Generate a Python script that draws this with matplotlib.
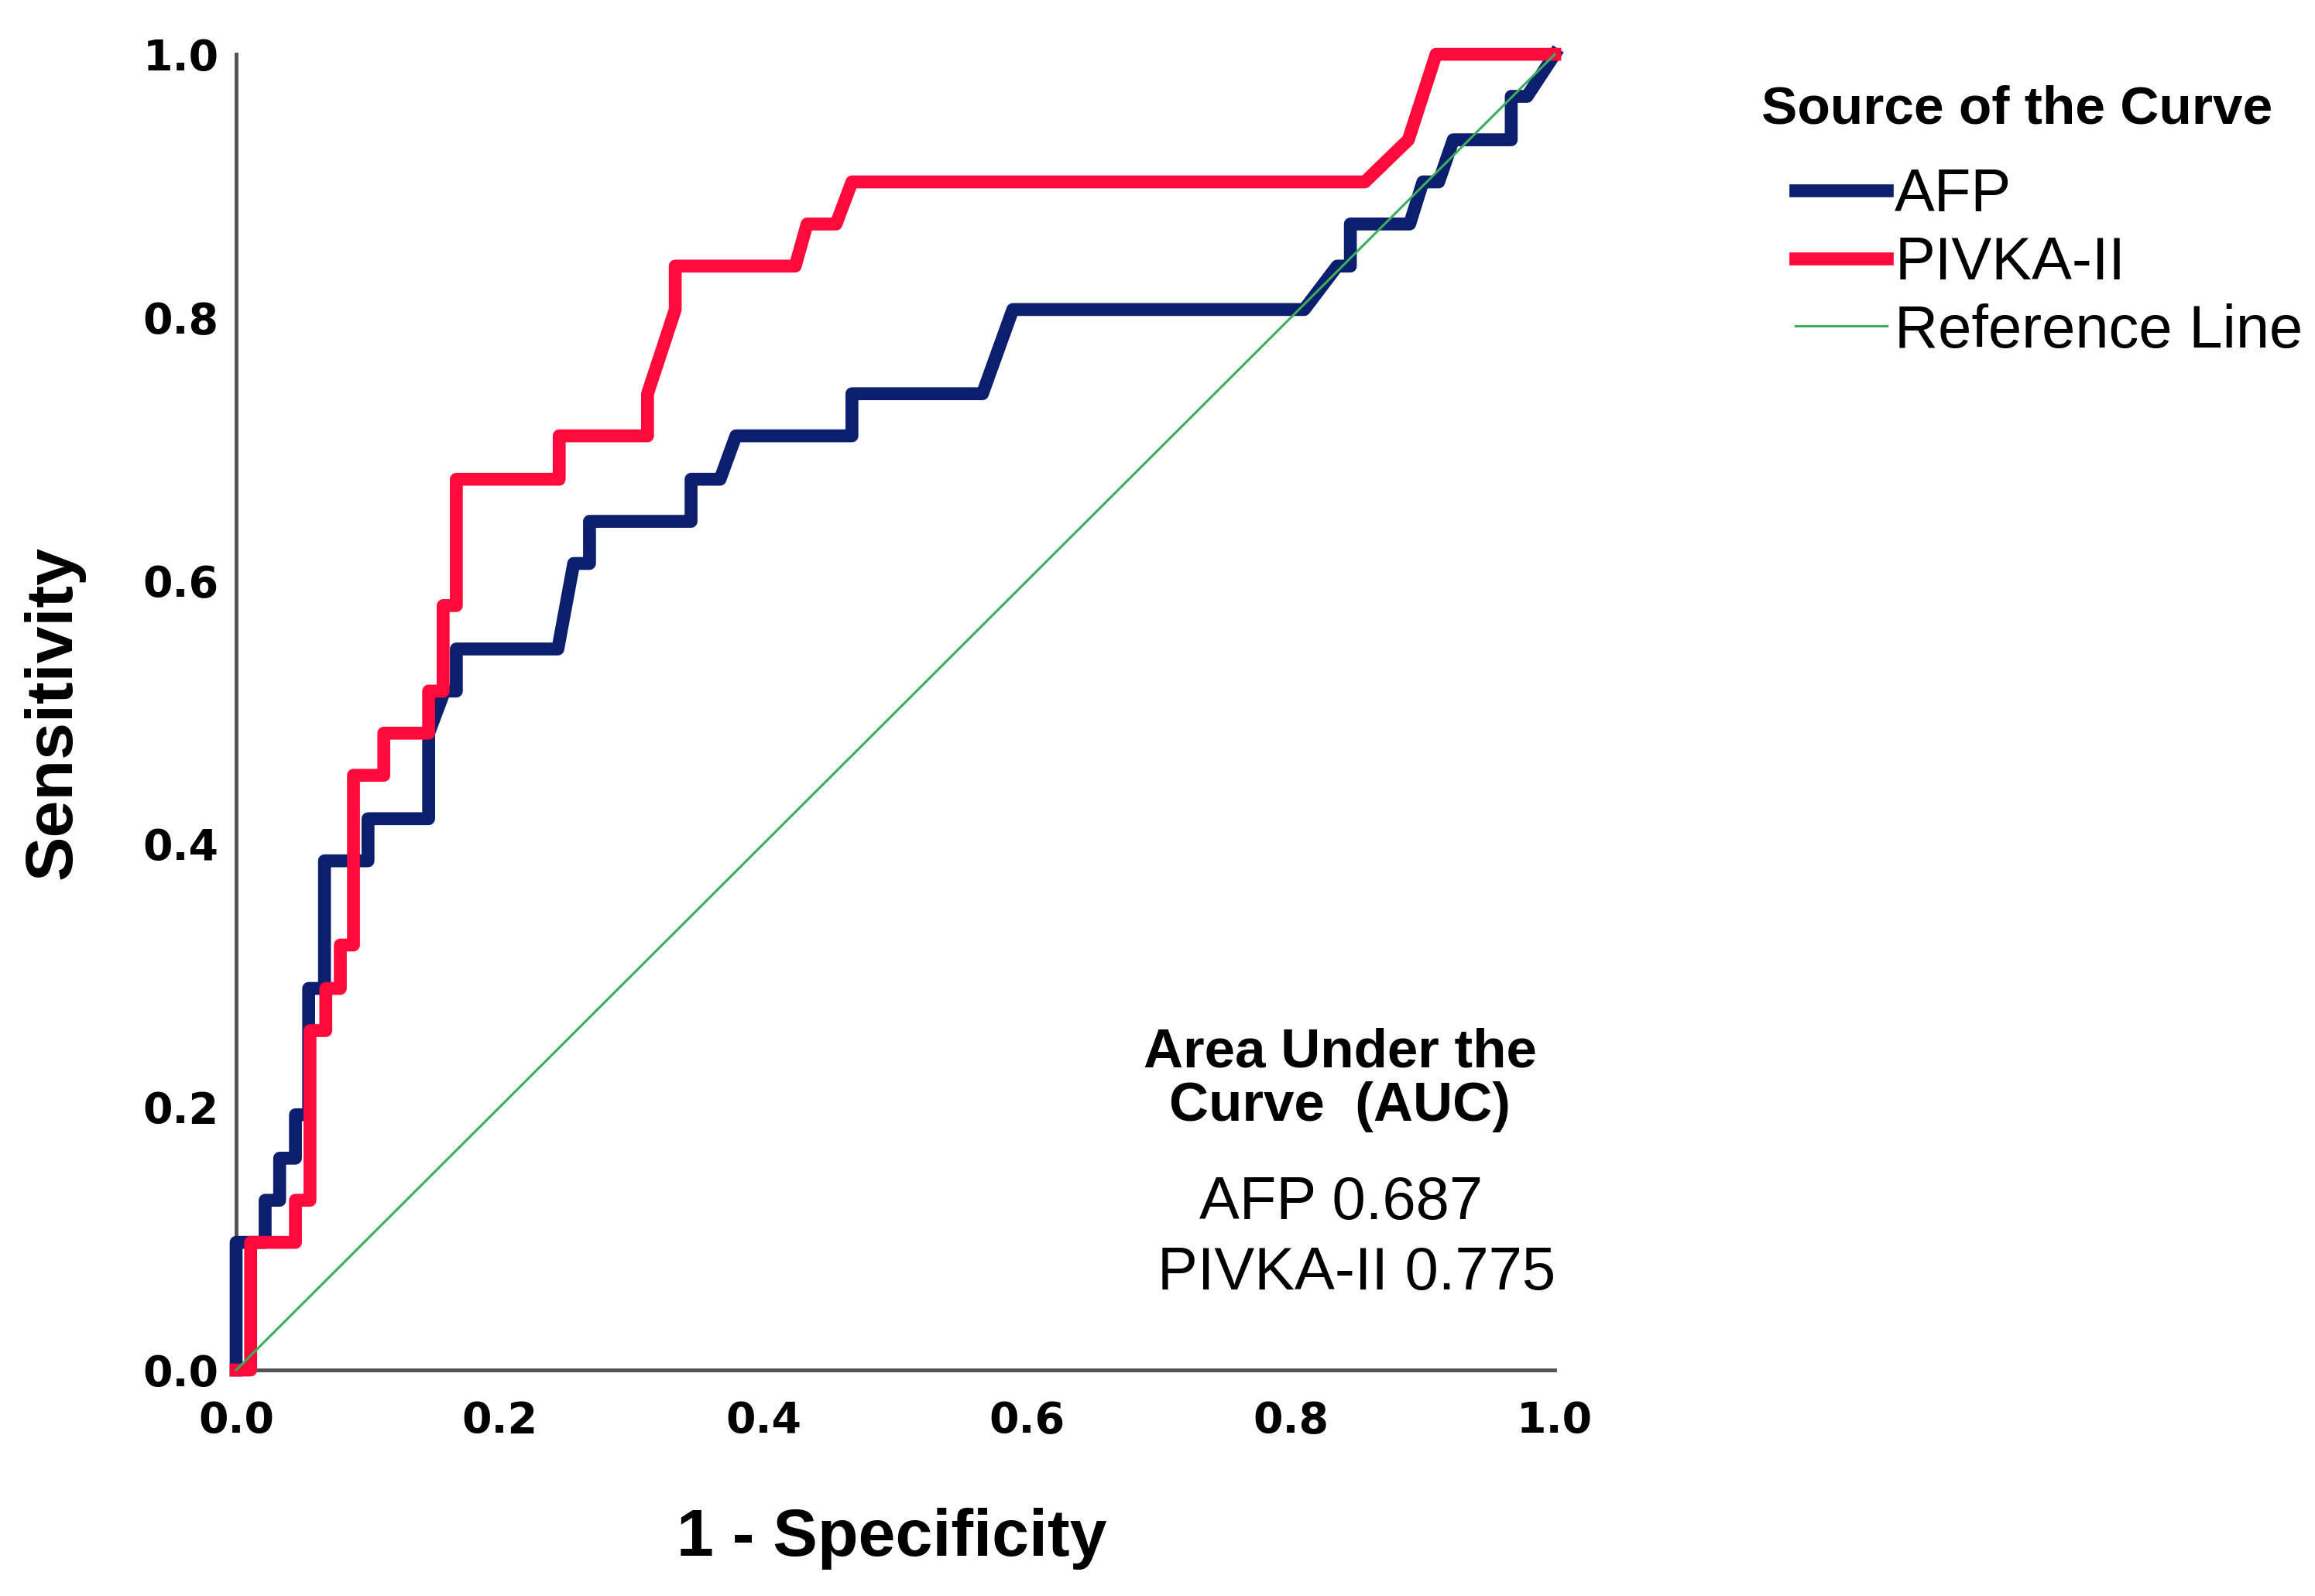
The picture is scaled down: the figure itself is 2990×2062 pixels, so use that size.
import matplotlib
matplotlib.use("Agg")
import matplotlib.pyplot as plt

# ROC vertices (1 - specificity, sensitivity)
afp_fpr = [0.0, 0.0, 0.022, 0.022, 0.033, 0.033, 0.045, 0.045, 0.055, 0.055,
           0.067, 0.067, 0.100, 0.100, 0.146, 0.146, 0.158, 0.167, 0.167, 0.244,
           0.256, 0.268, 0.268, 0.345, 0.345, 0.367, 0.379, 0.467, 0.467, 0.566,
           0.589, 0.810, 0.835, 0.845, 0.845, 0.890, 0.900, 0.912, 0.923, 0.967,
           0.967, 0.979, 1.0]
afp_tpr = [0.0, 0.097, 0.097, 0.129, 0.129, 0.161, 0.161, 0.194, 0.194, 0.290,
           0.290, 0.387, 0.387, 0.419, 0.419, 0.484, 0.516, 0.516, 0.548, 0.548,
           0.613, 0.613, 0.645, 0.645, 0.677, 0.677, 0.710, 0.710, 0.742, 0.742,
           0.806, 0.806, 0.839, 0.839, 0.871, 0.871, 0.903, 0.903, 0.935, 0.935,
           0.968, 0.968, 1.0]

pivka_fpr = [0.0, 0.011, 0.011, 0.045, 0.045, 0.056, 0.056, 0.068, 0.068, 0.079,
             0.079, 0.089, 0.089, 0.112, 0.112, 0.146, 0.146, 0.157, 0.157, 0.167,
             0.167, 0.245, 0.245, 0.312, 0.312, 0.333, 0.333, 0.424, 0.433, 0.455,
             0.467, 0.856, 0.889, 0.910, 1.0]
pivka_tpr = [0.0, 0.0, 0.097, 0.097, 0.129, 0.129, 0.258, 0.258, 0.290, 0.290,
             0.323, 0.323, 0.452, 0.452, 0.484, 0.484, 0.516, 0.516, 0.581, 0.581,
             0.677, 0.677, 0.710, 0.710, 0.742, 0.806, 0.839, 0.839, 0.871, 0.871,
             0.903, 0.903, 0.935, 1.0, 1.0]

ref_x = [0.0, 1.0]
ref_y = [0.0, 1.0]

ticks = [0.0, 0.2, 0.4, 0.6, 0.8, 1.0]
auc_labels = ["AFP 0.687", "PIVKA-II 0.775"]

blue = "#0c1f6e"
red = "#ff0a3a"
green = "#3aae5a"
font = "Liberation Sans"

fig = plt.figure(figsize=(29.9, 20.62), dpi=100)
ax = fig.add_axes([0.102, 0.1416, 0.5696, 0.8244])

l_afp, = ax.plot(afp_fpr, afp_tpr, color=blue, lw=12, zorder=2,
                 clip_on=False, solid_joinstyle="round", label="AFP")
l_piv, = ax.plot(pivka_fpr, pivka_tpr, color=red, lw=12, zorder=3,
                 clip_on=False, solid_joinstyle="round", label="PIVKA-II")
l_ref, = ax.plot(ref_x, ref_y, color=green, lw=2.2, zorder=4,
                 clip_on=False, label="Reference Line")

ax.set_xlim(0, 1)
ax.set_ylim(0, 1)
for side in ["top", "right"]:
    ax.spines[side].set_visible(False)
for side in ["left", "bottom"]:
    ax.spines[side].set_color("#505050")
    ax.spines[side].set_linewidth(3.5)
    ax.spines[side].set_zorder(1)

ax.set_xticks(ticks)
ax.set_yticks(ticks)
ax.set_xticklabels(["%.1f" % t for t in ticks])
ax.set_yticklabels(["%.1f" % t for t in ticks])
ax.tick_params(length=0)
ax.tick_params(axis="y", pad=16)
ax.tick_params(axis="x", pad=28)
for lab in ax.get_xticklabels() + ax.get_yticklabels():
    lab.set_fontfamily("DejaVu Sans")
    lab.set_fontweight("bold")
    lab.set_fontsize(40)

ax.set_xlabel("1 - Specificity", fontsize=62, fontweight="bold",
              family=font, va="center")
ax.xaxis.set_label_coords(0.497, -0.128)
ax.set_ylabel("Sensitivity", fontsize=62, fontweight="bold",
              family=font, va="center")
ax.yaxis.set_label_coords(-0.138, 0.5)

# AUC annotation
ax.text(0.837, 0.241, "Area Under the", fontsize=51, fontweight="bold",
        family=font, ha="center", va="center")
ax.text(0.837, 0.200, "Curve  (AUC)", fontsize=51, fontweight="bold",
        family=font, ha="center", va="center")
ax.text(0.838, 0.127, auc_labels[0], fontsize=56, family=font,
        ha="center", va="center")
ax.text(0.850, 0.073, auc_labels[1], fontsize=56, family=font,
        ha="center", va="center")

# legend
fig.text(2275 / 2990, 1 - 142 / 2062, "Source of the Curve", fontsize=50,
         fontweight="bold", family=font, ha="left", va="center")
fig.legend(handles=[l_afp, l_piv, l_ref], loc="upper left",
           bbox_to_anchor=(2319 / 2990, 1 - 216 / 2062), frameon=False,
           prop={"family": font, "size": 56}, handlelength=1.52,
           handletextpad=0.13, labelspacing=0.19, borderpad=0,
           borderaxespad=0)

fig.savefig("out.png", dpi=100)
